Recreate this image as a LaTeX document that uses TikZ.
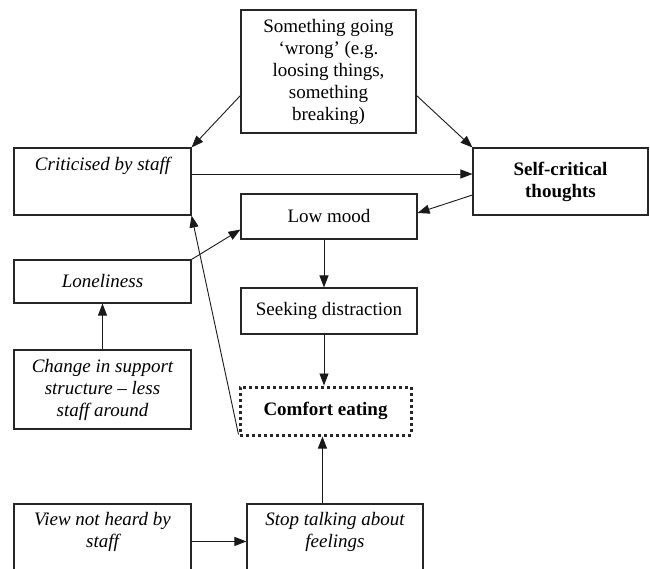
\documentclass[tikz,border=0pt]{standalone}
\usepackage{fontspec}
\setmainfont{Liberation Serif}
\usetikzlibrary{arrows.meta,calc}
\begin{document}
\begin{tikzpicture}[x=1pt,y=-1pt,
  box/.style={draw=black!85,line width=1.1pt,rectangle,align=center,inner sep=2pt,
    font=\fontsize{19}{22}\selectfont},
  txt/.style={align=center,inner sep=0pt,font=\fontsize{19}{22}\selectfont},
  arr/.style={draw=black!90,line width=0.9pt,-{Triangle[length=12pt,width=9pt]}},
  dotbox/.style={box,line width=3pt,dash pattern=on 3pt off 3pt}]
\useasboundingbox (0,0) rectangle (650,569);
\clip (0,0) rectangle (650,569);
\node[box,minimum width=175pt,minimum height=123pt] (top) at (328.5,71.5)
  {Something going\\ ‘wrong’ (e.g.\\ loosing things,\\ something\\ breaking)};
\node[box,minimum width=177pt,minimum height=67pt] (crit) at (102.5,181.5) {};
\node[txt,anchor=north,font=\fontsize{19}{22}\selectfont\itshape] (critt) at ($(crit.north)+(0,9)$) {Criticised by staff};
\node[box,minimum width=175pt,minimum height=67pt,font=\fontsize{19}{22}\selectfont\bfseries] (self) at (560.5,181.5)
  {Self-critical\\ thoughts};
\node[box,minimum width=176pt,minimum height=45pt] (low) at (329,216.5) {Low mood};
\node[box,minimum width=176pt,minimum height=46pt] (seek) at (329,311) {Seeking distraction};
\node[dotbox,minimum width=171pt,minimum height=48pt,font=\fontsize{19}{22}\selectfont\bfseries] (comf) at (325.5,411) {Comfort eating};
\node[box,minimum width=177pt,minimum height=43pt,font=\fontsize{19}{22}\selectfont\itshape] (lone) at (102.5,281.5) {Loneliness};
\node[box,minimum width=177pt,minimum height=79pt,font=\fontsize{19}{22}\selectfont\itshape] (chg) at (102.5,389.5)
  {Change in support\\ structure – less\\ staff around};
\node[box,minimum width=177pt,minimum height=100pt] (view) at (102.5,554) {};
\node[txt,anchor=north,font=\fontsize{19}{22}\selectfont\itshape] (viewt) at ($(view.north)+(0,9)$) {View not heard by\\ staff};
\node[box,minimum width=176pt,minimum height=100pt] (stop) at (335,554) {};
\node[txt,anchor=north,font=\fontsize{19}{22}\selectfont\itshape] (stopt) at ($(stop.north)+(0,9)$) {Stop talking about\\ feelings};
% helper points
\coordinate (lowS) at ($(low.south)+(-5,0)$);
\coordinate (seekN) at ($(seek.north)+(-5,0)$);
\coordinate (seekS) at ($(seek.south)+(-5,0)$);
\coordinate (stopN) at ($(stop.north west)+(76,0)$);
% connectors
\draw[arr] ($(top.west)+(0,24)$) -- (crit.north east);
\draw[arr] ($(top.east)+(0,24)$) -- (self.north west);
\draw[arr] ($(crit.east)+(0,-7.5)$) -- ($(self.west)+(0,-7.5)$);
\draw[arr] ($(self.west)+(0,13.5)$) -- ($(low.east)+(0,-3.5)$);
\draw[arr] (lone.north east) -- ($(low.south west)+(0,-10)$);
\draw[arr] (chg.north) -- (lone.south);
\draw[arr] (lowS) -- (seekN);
\draw[arr] (seekS) -- (seekS |- comf.north);
\draw[arr] ($(comf.south west)+(0,-2)$) -- (crit.south east);
\draw[arr] ($(view.north east)+(0,38)$) -- ($(stop.north west)+(0,38)$);
\draw[arr] (stopN) -- (stopN |- comf.south);
\end{tikzpicture}
\end{document}
